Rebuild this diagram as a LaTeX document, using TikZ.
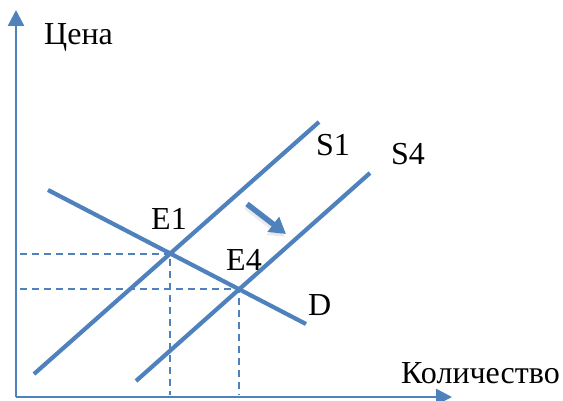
\documentclass[tikz,border=0pt]{standalone}
\usepackage{fontspec}
\setmainfont{Liberation Serif}
\usetikzlibrary{arrows.meta,calc}
\definecolor{chartblue}{RGB}{79,129,189}
\tikzset{
    % axes with filled tips
    axisline/.style={chartblue, line width=2.5pt, -{Triangle[length=16pt,width=16pt]}},
    % supply and demand lines
    curve/.style={chartblue, line width=4.2pt},
    % guide lines down to the axes
    guide/.style={chartblue, line width=2pt, dash pattern=on 7pt off 5pt},
    % shift arrow
    shiftarrow/.style={chartblue, line width=5.5pt, -{Triangle[length=16pt,width=18pt]}},
    lbl/.style={font=\fontsize{32}{32}\selectfont, inner sep=0pt, anchor=base west},
}
\begin{document}
\begin{tikzpicture}[x=1pt, y=-1pt]
  \useasboundingbox (0,0) rectangle (563,401);

  % --- axes ---
  \coordinate (O) at (16,397);
  \coordinate (ytip) at (16,10);
  \coordinate (xtip) at (452,397);
  \draw[axisline] (O) -- (ytip);
  \draw[axisline] (O) -- (xtip);
  \node[lbl] (price) at (44,45) {Цена};
  \node[lbl] (qty) at (401,383) {Количество};

  % --- lines ---
  \coordinate (s1a) at (34,374);  \coordinate (s1b) at (319,122);
  \coordinate (s4a) at (136,381); \coordinate (s4b) at (370,173);
  \coordinate (da)  at (48,190);  \coordinate (db)  at (306,324);
  \draw[curve] (s1a) -- (s1b);
  \draw[curve] (s4a) -- (s4b);
  \draw[curve] (da) -- (db);
  \node[lbl] (S1) at (316,156) {S1};
  \node[lbl] (S4) at (391,165) {S4};
  \node[lbl] (D)  at (308,316) {D};

  % equilibria
  \coordinate (E1) at (intersection of s1a--s1b and da--db);
  \coordinate (E4) at (intersection of s4a--s4b and da--db);
  \node[lbl] (E1lbl) at (151,230) {E1};
  \node[lbl] (E4lbl) at (226,270) {E4};

  % dashed guides
  \coordinate (E1y) at ($(E1 -| O)+(4,0)$);
  \coordinate (E4y) at ($(E4 -| O)+(4,0)$);
  \coordinate (E1x) at ($(E1 |- O)+(0,-2)$);
  \coordinate (E4x) at ($(E4 |- O)+(0,-2)$);
  \draw[guide] (E1y) -- (E1) -- (E1x);
  \draw[guide] (E4y) -- (E4) -- (E4x);

  % shift of supply
  \coordinate (arra) at (247,204);
  \coordinate (arrb) at (286,234);
  \draw[shiftarrow, black!20, opacity=0.4] ($(arra)+(-1,3)$) -- ($(arrb)+(-1,3)$);
  \draw[shiftarrow] (arra) -- (arrb);
\end{tikzpicture}
\end{document}
